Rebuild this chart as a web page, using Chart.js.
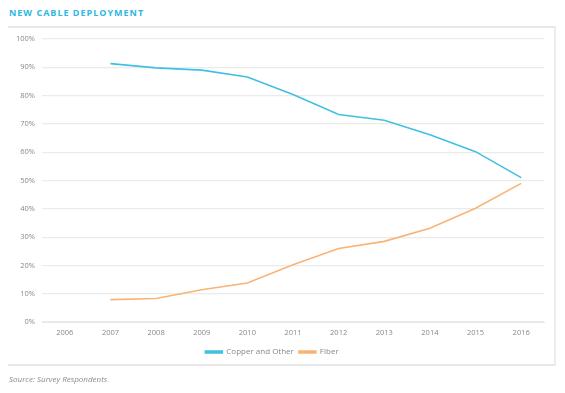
<!DOCTYPE html>
<html>
<head>
<meta charset="utf-8">
<script src="https://cdn.jsdelivr.net/npm/chart.js@4/dist/chart.umd.min.js"></script>
<style>
  html, body { margin: 0; padding: 0; background: #fff; }
  body { width: 565px; height: 393px; position: relative; overflow: hidden; font-family: "Open Sans", sans-serif; }
  #title { position: absolute; left: 9px; top: 6px; font-size: 9px; font-weight: bold; letter-spacing: 1.0px; color: #2cb8e2; }
  #frame { position: absolute; left: 8px; top: 26px; width: 546px; height: 336px; border-top: 2px solid #e8e8e8; border-right: 2px solid #ececec; border-bottom: 2px solid #e8e8e8; }
  #wrap { position: absolute; left: 0; top: 0; width: 565px; height: 393px; }
  #source { position: absolute; left: 9px; top: 373px; font-size: 8px; font-style: italic; color: #8a8a8a; }
</style>
</head>
<body>
<div id="title">NEW CABLE DEPLOYMENT</div>
<div id="frame"></div>
<div id="wrap"><canvas id="c" width="565" height="393"></canvas></div>
<div id="source">Source: Survey Respondents</div>
<script>
const years = ["2006","2007","2008","2009","2010","2011","2012","2013","2014","2015","2016"];
const copperAndOther = [null, 91.3, 89.8, 89.0, 86.6, 80.4, 73.3, 71.3, 66.2, 60.2, 51.0];
const fiber = [null, 7.9, 8.3, 11.4, 13.8, 20.2, 26.0, 28.5, 33.1, 40.2, 49.0];
const seriesNames = ["Copper and Other", "Fiber"];
const yTicks = [0, 10, 20, 30, 40, 50, 60, 70, 80, 90, 100];

const copperColor = "#41c1e1";
const fiberColor = "#f8b477";

new Chart(document.getElementById("c"), {
  type: "line",
  data: {
    labels: years,
    datasets: [
      { label: seriesNames[0], data: copperAndOther, borderColor: copperColor, backgroundColor: copperColor, borderWidth: 1.6, pointRadius: 0, tension: 0 },
      { label: seriesNames[1], data: fiber, borderColor: fiberColor, backgroundColor: fiberColor, borderWidth: 1.6, pointRadius: 0, tension: 0 }
    ]
  },
  options: {
    responsive: false,
    animation: false,
    devicePixelRatio: 1,
    layout: { padding: { left: 0, right: 21, top: 39, bottom: 27 } },
    plugins: {
      title: { display: false },
      tooltip: { enabled: false },
      legend: {
        position: "bottom",
        labels: {
          boxWidth: 17, boxHeight: 2, padding: 5,
          color: "#888", font: { family: "Open Sans", size: 8 }
        }
      }
    },
    scales: {
      x: {
        offset: true,
        grid: { display: false, drawTicks: false },
        border: { display: true, color: "#e6e6e6", width: 1 },
        ticks: { color: "#888", font: { family: "Open Sans", size: 7.5 }, padding: 6, maxRotation: 0, autoSkip: false }
      },
      y: {
        min: 0, max: 100,
        afterFit: (s) => { s.width = 42; },
        afterBuildTicks: (s) => { s.ticks = yTicks.map(v => ({ value: v })); },
        grid: { color: "#ebebeb", lineWidth: 1.2, drawTicks: false },
        border: { display: false },
        ticks: { color: "#888", font: { family: "Open Sans", size: 7.5 }, padding: 7, callback: (v) => v + "%" }
      }
    }
  }
});
</script>
</body>
</html>
